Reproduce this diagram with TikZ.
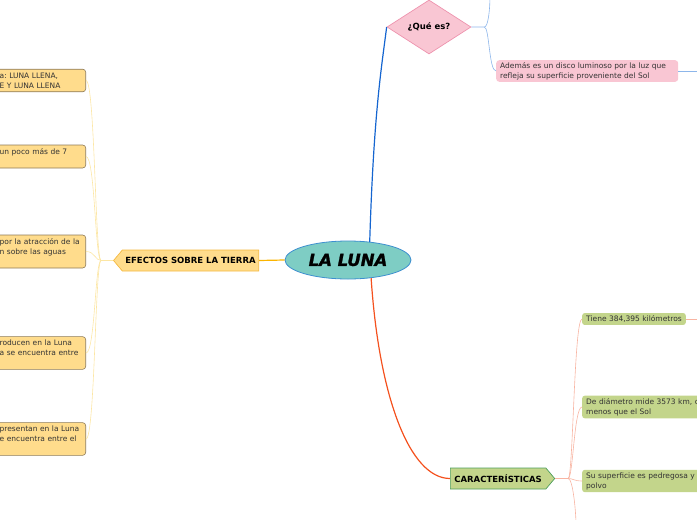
\documentclass[tikz,border=0pt]{standalone}
\usepackage{fontspec}
\setmainfont{DejaVu Sans}
\newfontfamily\lunafont[FakeBold=1.5]{DejaVu Sans Bold Oblique}
\usetikzlibrary{shapes.geometric,shapes.symbols,positioning,calc}
\frenchspacing
\definecolor{lunafill}{HTML}{7ECDC4}
\definecolor{lunaline}{HTML}{3D8FCF}
\definecolor{pinkfill}{HTML}{F9C6D3}
\definecolor{pinkline}{HTML}{EE93AE}
\definecolor{yellowfill}{HTML}{FFDC8C}
\definecolor{tagline}{HTML}{F5B93F}
\definecolor{leafline}{HTML}{8E7B58}
\definecolor{greenfill}{HTML}{C3D58B}
\definecolor{greenline}{HTML}{4E9E5C}
\definecolor{textgray}{HTML}{333333}
\definecolor{bluelink}{HTML}{1565D0}
\definecolor{bluesub}{HTML}{8DB6EA}
\definecolor{redlink}{HTML}{F4511E}
\definecolor{redsub}{HTML}{F8B4A2}
\definecolor{yellowlink}{HTML}{FBB400}
\definecolor{yellowsub}{HTML}{FCE6A4}

\begin{document}
\begin{tikzpicture}[x=1pt,y=-1pt,font=\fontsize{7.5}{10}\selectfont,
  mainnode/.style={ellipse,draw=lunaline,fill=lunafill,line width=0.8pt,minimum width=126pt,minimum height=38pt,inner sep=0pt,font=\fontsize{16.5}{17}\lunafont},
  quesbox/.style={diamond,draw=pinkline,fill=pinkfill,line width=0.7pt,aspect=1.6,inner sep=0pt,minimum width=84pt,minimum height=54pt,font=\fontsize{8.5}{9}\selectfont\bfseries},
  tagbox/.style={signal,signal pointer angle=100,line width=0.7pt,minimum height=21pt,inner xsep=3pt,inner ysep=0pt,font=\fontsize{8.5}{9}\selectfont\bfseries},
  efleaf/.style={rectangle,rounded corners=3pt,draw=leafline,fill=yellowfill,line width=0.6pt,text width=82pt,align=left,inner xsep=4pt,inner ysep=3.5pt,anchor=east,text=textgray},
  carleaf/.style={rectangle,rounded corners=2.5pt,fill=greenfill,align=left,inner xsep=4pt,inner ysep=2.5pt,anchor=west,text=textgray},
  queleaf/.style={rectangle,rounded corners=3pt,fill=pinkfill,align=left,text width=174pt,inner xsep=4pt,inner ysep=2pt,anchor=west,text=textgray},
  mainlink/.style={line width=1.2pt},
  sublink/.style={line width=0.6pt}]
  \useasboundingbox (0,0) rectangle (697,520);
  \clip (0,0) rectangle (697,520);

  \node[mainnode] (luna) at (348,260) {LA LUNA};
  \node[quesbox] (quees) at (429,27) {¿Qué es?};
  \node[queleaf] (ademas) at (496,71) {Además es un disco luminoso por la luz que refleja su superficie proveniente del Sol};
  \node[tagbox,signal to=west,draw=tagline,fill=yellowfill,anchor=east] (efectos) at (259,260.5) {EFECTOS SOBRE LA TIERRA};
  \node[tagbox,signal to=east,draw=greenline,fill=greenfill,anchor=west,inner xsep=4pt] (cara) at (450,478.5) {CARACTERÍSTICAS};

  \node[efleaf] (fases) at (86,80.5) {a: LUNA LLENA,\\E Y LUNA LLENA};
  \node[efleaf] (ciclo) at (86,156.5) {un poco más de 7\\\mbox{}};
  \node[efleaf] (mareas) at (86,251.5) {por la atracción de la\\n sobre las aguas\\\mbox{}};
  \node[efleaf] (eclsol) at (86,353) {roducen en la Luna\\a se encuentra entre\\\mbox{}};
  \node[efleaf] (eclluna) at (86,439) {presentan en la Luna\\e encuentra entre el\\\mbox{}};

  \node[carleaf] (tiene) at (582,319) {Tiene 384,395 kilómetros};
  \node[carleaf,text width=150pt] (diametro) at (582,407) {De diámetro mide 3573 km, c\\menos que el Sol};
  \node[carleaf,text width=150pt] (superficie) at (582,481) {Su superficie es pedregosa y\\polvo};

  \coordinate (qb) at ([xshift=13pt]quees.east);
  \coordinate (qtop) at (490,-4);
  \coordinate (aend) at (700,71);
  \coordinate (cb) at ([xshift=13pt]cara.east);
  \coordinate (cbot) at (576,524);
  \coordinate (tend) at (700,319);
  \coordinate (eb) at ([xshift=-12pt]efectos.west);

  \draw[mainlink,bluelink] (luna.40) .. controls +(4,-130) and +(-5,40) .. (quees.west);
  \draw[mainlink,redlink] (luna.-38) .. controls +(8,120) and +(-40,0) .. (cara.west);
  \draw[mainlink,yellowlink] (luna.west) -- (efectos.east);

  \draw[sublink,bluesub] (quees.east) -- (qb) .. controls +(4,0) and +(0,12) .. (qtop);
  \draw[sublink,bluesub] (qb) .. controls +(5,0) and +(-7,0) .. (ademas.west);
  \draw[sublink,bluesub] (ademas.east) -- (aend);

  \draw[sublink,redsub] (cara.east) -- (cb) .. controls +(5,0) and +(-8,0) .. (tiene.west);
  \draw[sublink,redsub] (cb) .. controls +(5,0) and +(-8,0) .. (diametro.west);
  \draw[sublink,redsub] (cb) .. controls +(5,0) and +(-8,0) .. (superficie.west);
  \draw[sublink,redsub] (cb) .. controls +(5,0) and +(0,-10) .. (cbot);
  \draw[sublink,redsub] (tiene.east) -- (tend);

  \draw[sublink,yellowsub] (efectos.west) -- (eb);
  \foreach \leaf in {fases,ciclo,mareas,eclsol,eclluna}
    \draw[sublink,yellowsub] (eb) .. controls +(-6,0) and +(9,0) .. (\leaf.east);
\end{tikzpicture}
\end{document}
